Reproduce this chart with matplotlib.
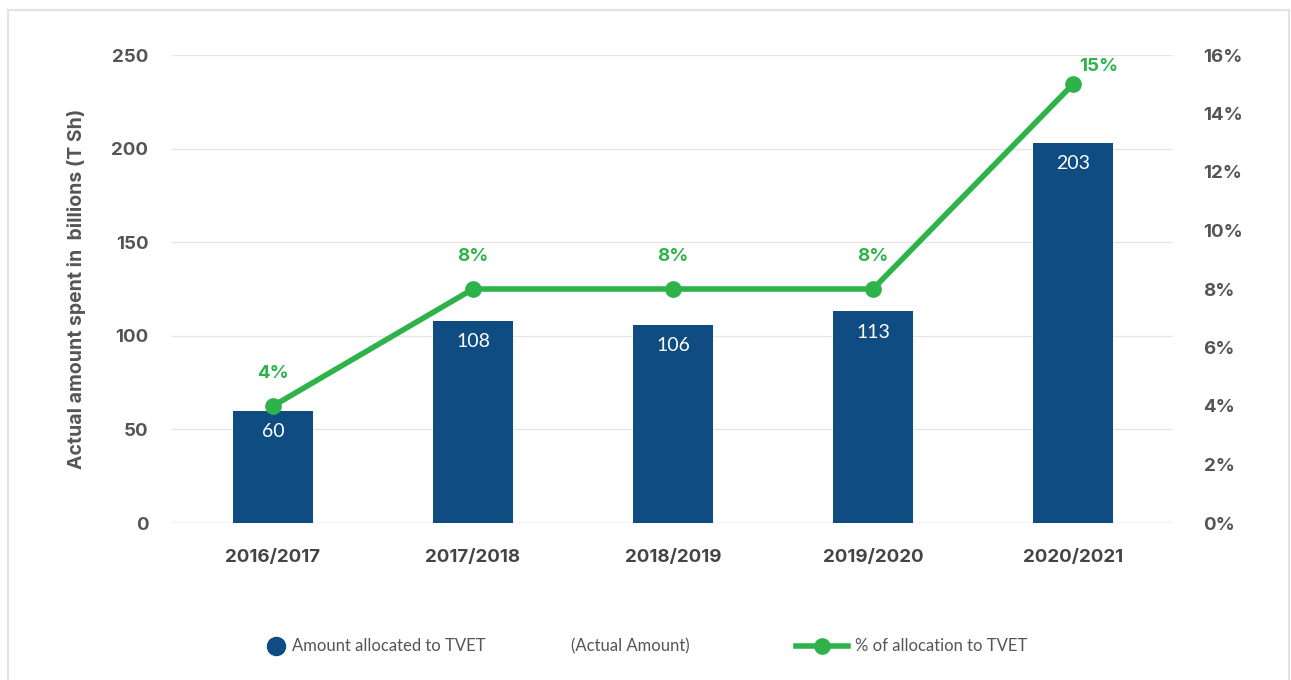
import matplotlib
matplotlib.use("Agg")
import matplotlib.pyplot as plt
from matplotlib.lines import Line2D
from matplotlib.patches import Rectangle

years = ["2016/2017", "2017/2018", "2018/2019", "2019/2020", "2020/2021"]
amount = [60, 108, 106, 113, 203]
share_pct = [4, 8, 8, 8, 15]

left_ticks = [0, 50, 100, 150, 200, 250]
right_ticks = [0, 2, 4, 6, 8, 10, 12, 14, 16]

BLUE = "#0F4C81"
GREEN = "#2DB34A"
GRAY = "#555555"
GRID = "#E6E6E6"

BOLD_FONT = ["Inter", "DejaVu Sans"]
plt.rcParams["font.family"] = ["Lato", "DejaVu Sans"]

fig = plt.figure(figsize=(12.91, 6.80), dpi=100)
fig.patch.set_facecolor("white")

# outer frame
fig.add_artist(Rectangle((8 / 1291, -0.01), 1281 / 1291, 1 - 10 / 680 + 0.01,
                         transform=fig.transFigure, fill=False,
                         edgecolor="#E3E3E3", linewidth=1.5))

ax = fig.add_axes([172 / 1291, 1 - 523 / 680, 1001 / 1291, 468 / 680])
x = list(range(len(years)))

ax.bar(x, amount, width=0.4, color=BLUE, zorder=2)
for xi, v in zip(x, amount):
    ax.text(xi, v - 11, f"{v}", ha="center", va="center", color="white",
            fontsize=14, zorder=3)

ax.set_xlim(-0.505, 4.5)
ax.set_ylim(0, 250)
ax.set_yticks(left_ticks)
ax.set_yticklabels([str(t) for t in left_ticks], fontsize=13.5, fontweight="bold",
                   color=GRAY, family=BOLD_FONT)
ax.set_xticks(x)
ax.set_xticklabels(years, fontsize=13.5, fontweight="bold", color="#444444",
                   family=BOLD_FONT)
ax.tick_params(axis="both", length=0)
ax.tick_params(axis="y", pad=17)
ax.tick_params(axis="x", pad=19)
ax.grid(axis="y", color=GRID, linewidth=1, zorder=0)
ax.set_axisbelow(True)
for s in ax.spines.values():
    s.set_visible(False)
ax.axhline(0, color="#DDDDDD", linewidth=1, zorder=1)
ax.set_ylabel("Actual amount spent in  billions (T Sh)", fontsize=14,
              fontweight="bold", color=GRAY, labelpad=18, family=BOLD_FONT)

ax2 = ax.twinx()
ax2.plot(x, share_pct, color=GREEN, linewidth=4, marker="o", markersize=11,
         zorder=4)
for xi, p in zip(x, share_pct):
    if p == max(share_pct):
        dx, dy = 0.13, 0.6
    else:
        dx, dy = 0.0, 1.1
    ax2.text(xi + dx, p + dy, f"{p}%", ha="center", va="center", color=GREEN,
             fontsize=13.5, fontweight="bold", family=BOLD_FONT)
ax2.set_ylim(0, 16)
ax2.set_yticks(right_ticks)
ax2.set_yticklabels([f"{t}%" for t in right_ticks], fontsize=13.5,
                    fontweight="bold", color=GRAY, family=BOLD_FONT)
ax2.tick_params(axis="y", length=0, pad=22)
for s in ax2.spines.values():
    s.set_visible(False)

# legend row
ly = 1 - 646 / 680
fig.add_artist(Line2D([276 / 1291], [ly], marker="o", markersize=13,
                      color=BLUE, linestyle="none", transform=fig.transFigure))
fig.text(292 / 1291, ly, "Amount allocated to TVET", fontsize=12, color=GRAY,
         va="center", ha="left")
fig.text(571 / 1291, ly, "(Actual Amount)", fontsize=12, color=GRAY,
         va="center", ha="left")
fig.add_artist(Line2D([796 / 1291, 848 / 1291], [ly, ly], color=GREEN,
                      linewidth=4, transform=fig.transFigure))
fig.add_artist(Line2D([822 / 1291], [ly], marker="o", markersize=11,
                      color=GREEN, linestyle="none", transform=fig.transFigure))
fig.text(855 / 1291, ly, "% of allocation to TVET", fontsize=12, color=GRAY,
         va="center", ha="left")

fig.savefig("out.png", dpi=100, facecolor="white")
